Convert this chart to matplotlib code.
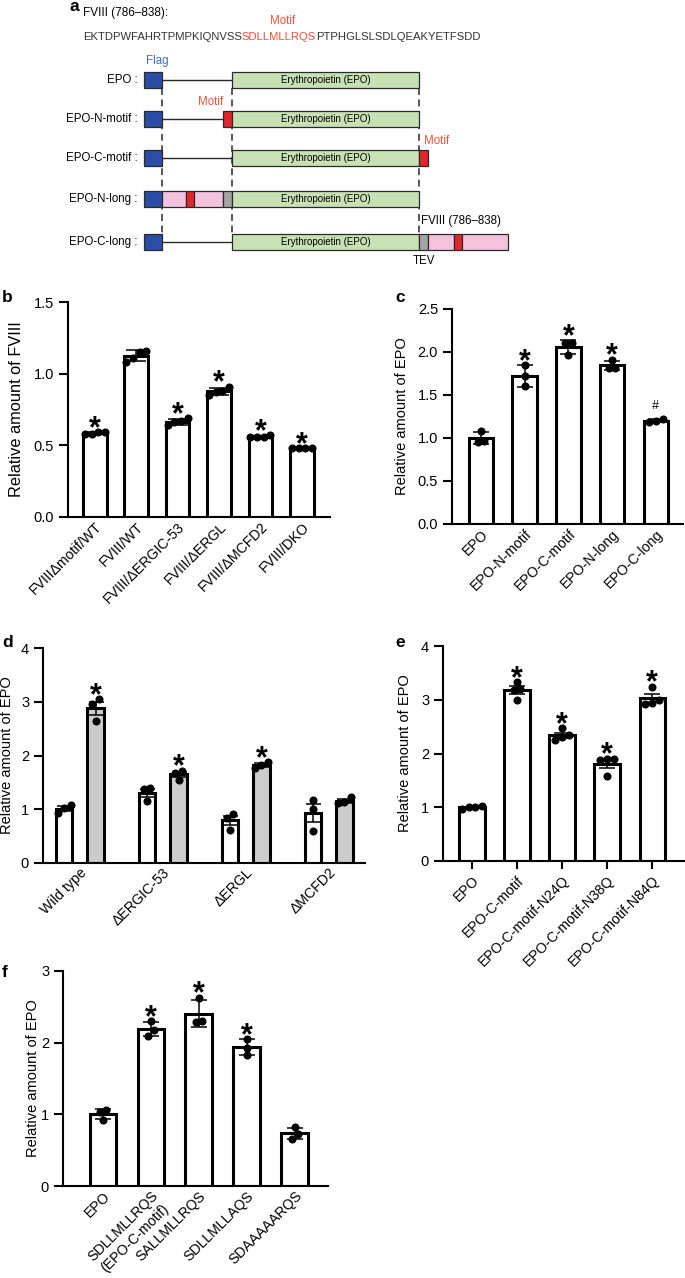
import numpy as np
import matplotlib
matplotlib.use('Agg')
import matplotlib.pyplot as plt

W, H = 685, 1278

# ---- panel a: construct schematic ----
seq_parts = ['EKTDPWFAHRTPMPKIQNVSS', 'SDLLMLLRQS', 'PTPHGLSLSDLQEAKYETFSDD']
constructs = ['EPO', 'EPO-N-motif', 'EPO-C-motif', 'EPO-N-long', 'EPO-C-long']
n_parts = [[], [('motif', 9)], [], [('pink', 24), ('motif', 8), ('pink', 29), ('gray', 9)], []]
c_parts = [[], [], [('motif', 9)], [], [('gray', 9), ('pink', 26), ('motif', 8), ('pink', 46)]]
FLAG_X = (144, 162)
EPO_X = (232, 419)
ROW_Y = [80, 119, 158, 199, 242]
BOX_H = 16

# ---- panel b ----
b_labels = ['FVIIIΔmotif/WT', 'FVIII/WT', 'FVIII/ΔERGIC-53', 'FVIII/ΔERGL', 'FVIII/ΔMCFD2', 'FVIII/DKO']
b_points = [[0.58, 0.59, 0.59, 0.58], [1.16, 1.15, 1.08, 1.11], [0.69, 0.64, 0.66, 0.67],
            [0.91, 0.85, 0.87, 0.88], [0.57, 0.56, 0.56, 0.56], [0.48, 0.48, 0.48, 0.48]]
b_marks = ['*', '', '*', '*', '*', '*']

# ---- panel c ----
c_labels = ['EPO', 'EPO-N-motif', 'EPO-C-motif', 'EPO-N-long', 'EPO-C-long']
c_points = [[1.08, 0.95, 0.97], [1.85, 1.60, 1.72], [2.11, 2.10, 1.97], [1.91, 1.81, 1.81], [1.19, 1.22, 1.20]]
c_marks = ['', '*', '*', '*', '#']

# ---- panel d ----
d_groups = ['Wild type', 'ΔERGIC-53', 'ΔERGL', 'ΔMCFD2']
d_white = [[1.08, 0.93, 1.02], [1.39, 1.15, 1.38], [0.92, 0.62, 0.84], [1.17, 1.00, 0.60]]
d_gray = [[3.05, 2.95, 2.64], [1.72, 1.55, 1.68], [1.87, 1.77, 1.83], [1.22, 1.13, 1.12]]
d_gray_marks = ['*', '*', '*', '']

# ---- panel e ----
e_labels = ['EPO', 'EPO-C-motif', 'EPO-C-motif-N24Q', 'EPO-C-motif-N38Q', 'EPO-C-motif-N84Q']
e_points = [[0.97, 1.02, 1.01, 1.00], [3.33, 3.20, 3.00, 3.19], [2.47, 2.25, 2.34, 2.30],
            [1.90, 1.87, 1.89, 1.58], [3.24, 2.93, 3.00, 2.94]]
e_marks = ['', '*', '*', '*', '*']

# ---- panel f ----
f_labels = ['EPO', 'SDLLMLLRQS\n(EPO-C-motif)', 'SALLMLLRQS', 'SDLLMLLAQS', 'SDAAAAARQS']
f_points = [[1.065, 0.92, 1.03], [2.30, 2.10, 2.17], [2.63, 2.30, 2.29], [2.05, 1.83, 1.93], [0.82, 0.66, 0.72]]
f_marks = ['', '*', '*', '*', '']

plt.rcParams['font.family'] = ['Liberation Sans', 'DejaVu Sans']

COLORS = {'flag': '#2b4da6', 'epo': '#c7e1b5', 'motif': '#e2262b', 'pink': '#f3c3dd', 'gray': '#a5a5a5'}
RED_TXT = '#f0503a'
DOT_MS = 4.8


def px_axes(fig, left, top, right, bottom):
    return fig.add_axes([left / W, 1 - bottom / H, (right - left) / W, (bottom - top) / H])


def style_axes(ax, ylim, yticks, ytick_fmt, xlim, xticks, xlabels, ylabel, ylab_px, ylab_size=10.5, xtick_len=0):
    ax.set_xlim(*xlim)
    ax.set_ylim(*ylim)
    ax.set_yticks(yticks)
    ax.set_yticklabels([ytick_fmt.format(t) for t in yticks])
    ax.set_xticks(xticks)
    ax.set_xticklabels(xlabels, rotation=45, ha='right', rotation_mode='anchor', multialignment='center')
    for s in ['top', 'right']:
        ax.spines[s].set_visible(False)
    for s in ['left', 'bottom']:
        ax.spines[s].set_linewidth(1.5)
    ax.tick_params(axis='y', length=6.5, width=1.5, pad=3.5, labelsize=10.5)
    ax.tick_params(axis='x', length=xtick_len, width=1.5, pad=3 if xtick_len else 2, labelsize=10.2)
    ax.set_ylabel(ylabel, fontsize=ylab_size)
    bbox = ax.get_position()
    ax.yaxis.set_label_coords((ylab_px - bbox.x0 * W) / (bbox.width * W), 0.5)


def swarm_x(ax, x, vals, diam):
    to_px = ax.transData.transform
    ys = to_px(np.column_stack([np.full(len(vals), x), vals]))[:, 1]
    ppu = to_px([[1, 0]])[0, 0] - to_px([[0, 0]])[0, 0]
    order = np.argsort(ys)
    groups = [[order[0]]]
    for i in order[1:]:
        if ys[i] - ys[groups[-1][-1]] < diam * 0.9:
            groups[-1].append(i)
        else:
            groups.append([i])
    xs = np.full(len(vals), float(x))
    for g in groups:
        offs = (np.arange(len(g)) - (len(g) - 1) / 2) * diam
        for k, i in enumerate(g):
            xs[i] = x + offs[k] / ppu
    return xs


def draw_bars(ax, xs, points, width, err_kind, capsize, marks, fill='white'):
    means = np.array([np.mean(p) for p in points])
    err = np.array([np.std(p, ddof=1) for p in points])
    if err_kind == 'sem':
        err = err / np.sqrt([len(p) for p in points])
    ax.bar(xs, means, width, color=fill, edgecolor='black', linewidth=2.2, zorder=2)
    ax.errorbar(xs, means, yerr=err, fmt='none', ecolor='black', elinewidth=1.1,
                capsize=capsize, capthick=1.1, zorder=3)
    diam = DOT_MS * 100 / 72
    for x, p in zip(xs, points):
        ax.plot(swarm_x(ax, x, p, diam), p, 'o', color='black', ms=DOT_MS, mec='black', zorder=4, clip_on=False)
    for x, p, m, mu, e in zip(xs, points, marks, means, err):
        if not m:
            continue
        top = max(max(p), mu + e)
        if m == '*':
            ax.annotate(m, (x, top), xytext=(0, -3.5), textcoords='offset points', ha='center',
                        va='baseline', fontsize=22, fontweight='bold', annotation_clip=False)
        else:
            ax.annotate(m, (x, top), xytext=(0, 7), textcoords='offset points', ha='center',
                        va='baseline', fontsize=9, annotation_clip=False)


def draw_schematic(ax):
    ax.set_xlim(0, W)
    ax.set_ylim(270, 0)
    ax.axis('off')
    t = ax.text(83, 13, 'FVIII (786–838):', fontsize=8.5, va='center', ha='left')
    t1 = ax.text(83, 37.5, seq_parts[0], fontsize=8.1, va='center', ha='left', color='#333333')
    t2 = ax.annotate(seq_parts[1], xy=(1, 0), xycoords=t1, va='bottom', ha='left', fontsize=8.1, color=RED_TXT)
    ax.annotate(seq_parts[2], xy=(1, 0), xycoords=t2, va='bottom', ha='left', fontsize=8.1, color='#333333')
    ax.annotate('Motif', xy=(0.55, 1), xycoords=t2, xytext=(0, 4), textcoords='offset points',
                va='bottom', ha='center', fontsize=8.3, color=RED_TXT)
    ax.text(FLAG_X[0] + 2, 61, 'Flag', fontsize=8.3, color='#3d6dc0', va='center', ha='left')

    edge = dict(edgecolor='#2a2a2a', linewidth=0.9, height=BOX_H, zorder=3)
    dash_lo = ROW_Y[0] + BOX_H / 2
    dash_hi = ROW_Y[-1] - BOX_H / 2
    ax.vlines([FLAG_X[1], EPO_X[0], EPO_X[1]], dash_lo, dash_hi, colors='#2a2a2a',
              linewidth=1.1, linestyles=(0, (4.5, 3)), zorder=1)
    for name, y, npart, cpart in zip(constructs, ROW_Y, n_parts, c_parts):
        ax.text(138, y, name + ' :', fontsize=8.3, ha='right', va='center')
        ax.barh(y, FLAG_X[1] - FLAG_X[0], left=FLAG_X[0], color=COLORS['flag'], **edge)
        n_start = EPO_X[0] - sum(w for _, w in npart)
        if n_start > FLAG_X[1]:
            ax.hlines(y, FLAG_X[1], n_start, colors='#2a2a2a', linewidth=1.0, zorder=2)
        x = n_start
        for kind, w in npart:
            ax.barh(y, w, left=x, color=COLORS[kind], **edge)
            if kind == 'motif' and len(npart) == 1:
                ax.text(x, y - 17, 'Motif', fontsize=8.3, color=RED_TXT, ha='right', va='center')
            x += w
        ax.barh(y, EPO_X[1] - EPO_X[0], left=EPO_X[0], color=COLORS['epo'], **edge)
        ax.text((EPO_X[0] + EPO_X[1]) / 2, y, 'Erythropoietin (EPO)', fontsize=7, ha='center', va='center', zorder=4)
        x = EPO_X[1]
        for kind, w in cpart:
            ax.barh(y, w, left=x, color=COLORS[kind], **edge)
            if kind == 'motif' and len(cpart) == 1:
                ax.text(x + 5, y - 17, 'Motif', fontsize=8.3, color=RED_TXT, ha='left', va='center')
            if kind == 'gray' and len(cpart) > 1:
                ax.text(x + w / 2, y + 19, 'TEV', fontsize=8.3, ha='center', va='center')
                ax.text(x + 2, y - 21, 'FVIII (786–838)', fontsize=8.3, ha='left', va='center')
            x += w


fig = plt.figure(figsize=(W / 100, H / 100), dpi=100)

ax_a = fig.add_axes([0, 1 - 270 / H, 1, 270 / H])
draw_schematic(ax_a)

# b
ax_b = px_axes(fig, 68, 302, 330, 517)
xb = np.arange(len(b_labels))
style_axes(ax_b, (0, 1.5), [0, 0.5, 1.0, 1.5], '{:.1f}', (-0.65, 5.68), xb, b_labels,
           'Relative amount of FVIII', 24, ylab_size=11.8)
draw_bars(ax_b, xb, b_points, 0.57, 'sd', 7.5, b_marks)

# c
ax_c = px_axes(fig, 452, 309, 683, 524)
xc = np.arange(len(c_labels))
style_axes(ax_c, (0, 2.5), [0, 0.5, 1.0, 1.5, 2.0, 2.5], '{:.1f}', (-0.66, 4.62), xc, c_labels,
           'Relative amount of EPO', 409)
draw_bars(ax_c, xc, c_points, 0.565, 'sd', 5.8, c_marks)

# d
ax_d = px_axes(fig, 43, 648, 365, 863)
xd = np.arange(len(d_groups))
style_axes(ax_d, (0, 4), [0, 1, 2, 3, 4], '{:d}', (-0.446, 3.44), xd, d_groups,
           'Relative amount of EPO', 14)
draw_bars(ax_d, xd - 0.19, d_white, 0.2, 'sem', 5.4, [''] * len(d_groups))
draw_bars(ax_d, xd + 0.19, d_gray, 0.2, 'sem', 5.4, d_gray_marks, fill='#cccccc')

# e
ax_e = px_axes(fig, 443, 646, 685, 861)
xe = np.arange(len(e_labels))
style_axes(ax_e, (0, 4), [0, 1, 2, 3, 4], '{:d}', (-0.644, 4.73), xe, e_labels,
           'Relative amount of EPO', 412, xtick_len=6)
draw_bars(ax_e, xe, e_points, 0.56, 'sem', 5.8, e_marks)

# f
ax_f = px_axes(fig, 63, 971, 328, 1186)
xf = np.arange(len(f_labels))
style_axes(ax_f, (0, 3), [0, 1, 2, 3], '{:d}', (-0.833, 4.69), xf, f_labels,
           'Relative amount of EPO', 40)
draw_bars(ax_f, xf, f_points, 0.56, 'sd', 6, f_marks)

for letter, x, y in [('a', 70, 11), ('b', 2, 302), ('c', 395, 302), ('d', 2, 647), ('e', 395, 647), ('f', 2, 977)]:
    fig.text(x / W, 1 - y / H, letter, fontsize=12.5, fontweight='bold', ha='left', va='baseline')

fig.savefig('out.png', dpi=100)
